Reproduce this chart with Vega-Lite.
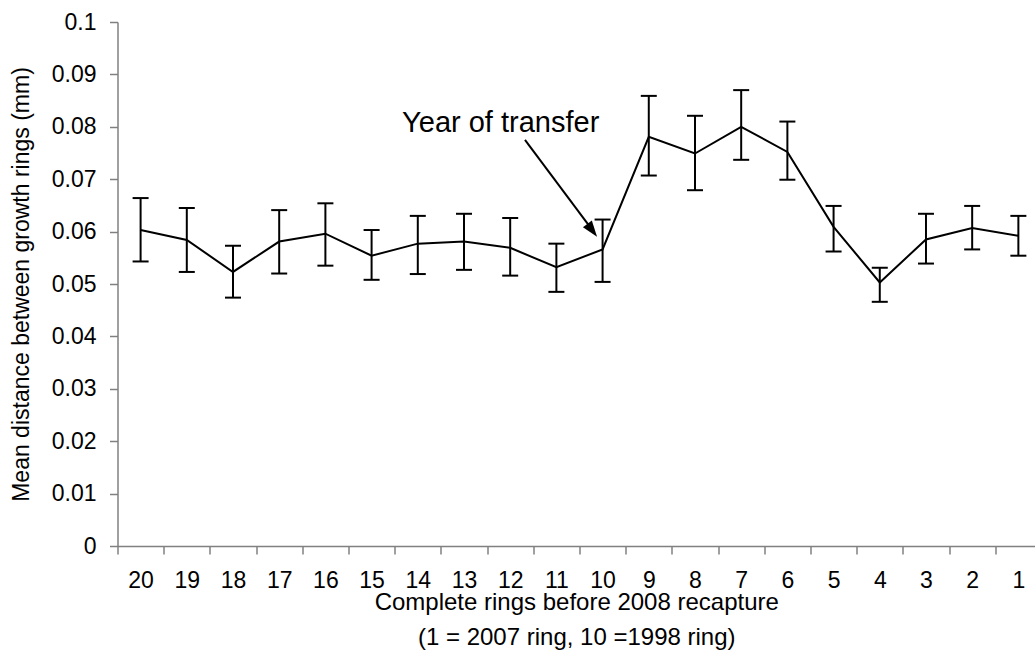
{
  "$schema": "https://vega.github.io/schema/vega-lite/v6.json",
  "width": 917.5,
  "height": 524,
  "autosize": {"type": "none"},
  "padding": {"left": 117.5, "top": 22, "right": 0, "bottom": 120},
  "background": "white",
  "config": {
    "view": {"stroke": null},
    "font": "Liberation Sans",
    "axis": {"grid": false, "domainColor": "#808080", "tickColor": "#808080", "domainWidth": 1.5, "tickWidth": 1.5, "labelColor": "black", "titleColor": "black", "labelFont": "Liberation Sans", "titleFont": "Liberation Sans", "titleFontWeight": "normal"}
  },
  "datasets": {
    "rings": [
      {"ring": 20, "mean": 0.0603, "lower": 0.0543, "upper": 0.0664},
      {"ring": 19, "mean": 0.0584, "lower": 0.0523, "upper": 0.0645},
      {"ring": 18, "mean": 0.0523, "lower": 0.0474, "upper": 0.0573},
      {"ring": 17, "mean": 0.0581, "lower": 0.0520, "upper": 0.0641},
      {"ring": 16, "mean": 0.0596, "lower": 0.0535, "upper": 0.0654},
      {"ring": 15, "mean": 0.0554, "lower": 0.0508, "upper": 0.0603},
      {"ring": 14, "mean": 0.0577, "lower": 0.0519, "upper": 0.0630},
      {"ring": 13, "mean": 0.0581, "lower": 0.0527, "upper": 0.0634},
      {"ring": 12, "mean": 0.0569, "lower": 0.0516, "upper": 0.0626},
      {"ring": 11, "mean": 0.0532, "lower": 0.0485, "upper": 0.0577},
      {"ring": 10, "mean": 0.0566, "lower": 0.0504, "upper": 0.0623},
      {"ring": 9, "mean": 0.0781, "lower": 0.0707, "upper": 0.0859},
      {"ring": 8, "mean": 0.0749, "lower": 0.0679, "upper": 0.0821},
      {"ring": 7, "mean": 0.0800, "lower": 0.0737, "upper": 0.0870},
      {"ring": 6, "mean": 0.0752, "lower": 0.0699, "upper": 0.0810},
      {"ring": 5, "mean": 0.0609, "lower": 0.0562, "upper": 0.0649},
      {"ring": 4, "mean": 0.0503, "lower": 0.0466, "upper": 0.0531},
      {"ring": 3, "mean": 0.0585, "lower": 0.0539, "upper": 0.0634},
      {"ring": 2, "mean": 0.0607, "lower": 0.0566, "upper": 0.0649},
      {"ring": 1, "mean": 0.0592, "lower": 0.0554, "upper": 0.0630}
    ],
    "arrow": [
      {"x1": 11.68, "y1": 0.0775, "x2": 10.22, "y2": 0.0603}
    ],
    "arrowhead": [
      {"ring": 10.12, "value": 0.059}
    ],
    "note": [
      {"ring": 14.34, "value": 0.0791, "label": "Year of transfer"}
    ]
  },
  "layer": [
    {
      "data": {"name": "rings"},
      "mark": {"type": "rule", "color": "black", "strokeWidth": 2},
      "encoding": {
        "x": {
          "field": "ring", "type": "quantitative",
          "scale": {"domain": [20.5, 0.64], "nice": false, "zero": false},
          "axis": {
            "values": [20, 19, 18, 17, 16, 15, 14, 13, 12, 11, 10, 9, 8, 7, 6, 5, 4, 3, 2, 1],
            "format": "d",
            "tickSize": 8,
            "tickOffset": -23.1,
            "labelOffset": 23.1,
            "labelFlush": false,
            "labelFontSize": 23,
            "labelPadding": 15,
            "title": ["Complete rings before 2008 recapture", "(1 = 2007 ring, 10 =1998 ring)"],
            "titleFontSize": 24,
            "titleLineHeight": 35,
            "titlePadding": -2
          }
        },
        "y": {
          "field": "lower", "type": "quantitative",
          "scale": {"domain": [0, 0.1], "nice": false},
          "axis": {
            "values": [0, 0.01, 0.02, 0.03, 0.04, 0.05, 0.06, 0.07, 0.08, 0.09, 0.1],
            "format": "~g",
            "tickSize": 8,
            "labelFontSize": 23,
            "labelPadding": 13.5,
            "title": "Mean distance between growth rings (mm)",
            "titleFontSize": 23,
            "titlePadding": 18
          }
        },
        "y2": {"field": "upper"}
      }
    },
    {
      "data": {"name": "rings"},
      "mark": {"type": "rule", "color": "black", "strokeWidth": 2, "xOffset": -8, "x2Offset": 8},
      "encoding": {
        "x": {"field": "ring", "type": "quantitative"},
        "x2": {"field": "ring"},
        "y": {"field": "lower", "type": "quantitative"}
      }
    },
    {
      "data": {"name": "rings"},
      "mark": {"type": "rule", "color": "black", "strokeWidth": 2, "xOffset": -8, "x2Offset": 8},
      "encoding": {
        "x": {"field": "ring", "type": "quantitative"},
        "x2": {"field": "ring"},
        "y": {"field": "upper", "type": "quantitative"}
      }
    },
    {
      "data": {"name": "rings"},
      "mark": {"type": "line", "color": "black", "strokeWidth": 2},
      "encoding": {
        "x": {"field": "ring", "type": "quantitative"},
        "y": {"field": "mean", "type": "quantitative"}
      }
    },
    {
      "data": {"name": "arrow"},
      "mark": {"type": "rule", "color": "black", "strokeWidth": 2},
      "encoding": {
        "x": {"field": "x1", "type": "quantitative"},
        "y": {"field": "y1", "type": "quantitative"},
        "x2": {"field": "x2"},
        "y2": {"field": "y2"}
      }
    },
    {
      "data": {"name": "arrowhead"},
      "mark": {"type": "point", "filled": true, "color": "black", "opacity": 1, "shape": "M0,0L-0.65,1.9L0.65,1.9Z", "size": 290, "angle": 143.4},
      "encoding": {
        "x": {"field": "ring", "type": "quantitative"},
        "y": {"field": "value", "type": "quantitative"}
      }
    },
    {
      "data": {"name": "note"},
      "mark": {"type": "text", "align": "left", "baseline": "alphabetic", "fontSize": 29, "font": "Liberation Sans", "color": "black"},
      "encoding": {
        "x": {"field": "ring", "type": "quantitative"},
        "y": {"field": "value", "type": "quantitative"},
        "text": {"field": "label"}
      }
    }
  ]
}
